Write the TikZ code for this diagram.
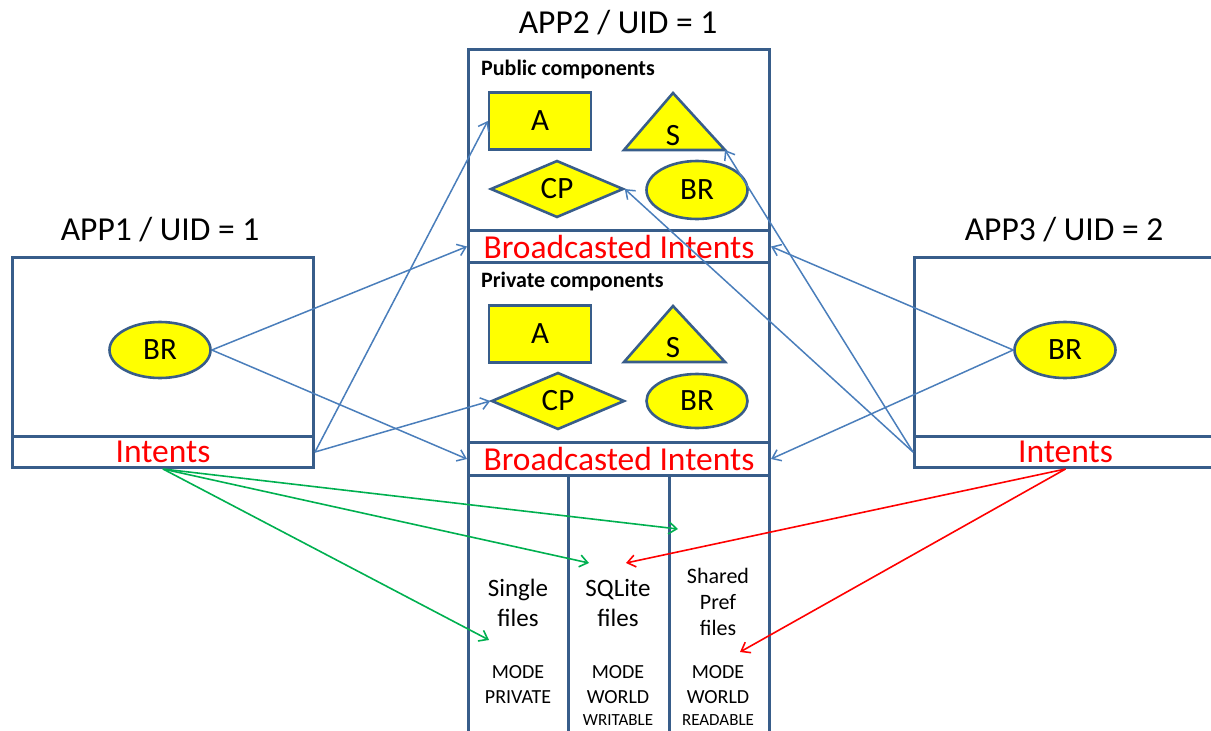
\documentclass[tikz,border=0pt]{standalone}
\usepackage{fontspec}
\setmainfont{Carlito}
\usetikzlibrary{shapes.geometric,arrows.meta}
\definecolor{boxblue}{HTML}{385D8A}
\definecolor{linkblue}{HTML}{4A7EBB}
\definecolor{linkgreen}{HTML}{00B050}
\definecolor{linkred}{HTML}{FF0000}
\definecolor{compyellow}{HTML}{FFFF00}
\newcommand\setfs[1]{\fontsize{#1}{#1}\selectfont}
\tikzset{
  frame/.style={draw=boxblue, line width=3pt, rectangle, inner sep=0pt, anchor=north west},
  comp/.style={draw=boxblue, line width=2.6pt, fill=compyellow, inner sep=0pt, font=\setfs{31}},
  complabel/.style={inner sep=0pt, font=\setfs{31}},
  compline/.style={draw=boxblue, line width=2.6pt, fill=compyellow, line join=miter},
  title/.style={inner sep=0pt, anchor=base, font=\setfs{33.5}},
  redtext/.style={text=linkred, font=\setfs{33.5}},
  seclabel/.style={inner sep=0pt, anchor=west, font=\bfseries\setfs{22}},
  filetext/.style={inner sep=0pt, anchor=base, font=\setfs{25}},
  sharedtext/.style={inner sep=0pt, anchor=base, font=\setfs{22}},
  modetext/.style={inner sep=0pt, anchor=base, font=\setfs{20}},
  modesmall/.style={inner sep=0pt, anchor=base, font=\setfs{17}},
  tip/.style={-{Straight Barb[length=8pt,width=12pt]}},
  link/.style={tip, draw=linkblue, line width=1.5pt},
  glink/.style={tip, draw=linkgreen, line width=1.6pt},
  rlink/.style={tip, draw=linkred, line width=1.6pt},
}
\begin{document}
\begin{tikzpicture}[x=1pt,y=-1pt]
\useasboundingbox (0,0) rectangle (1211,731);

% ---------- APP1 ----------
\node[title] (t1) at (160,240) {APP1 / UID = 1};
\node[frame, minimum width=301, minimum height=179] (app1) at (11,256) {};
\node[frame, minimum width=301, minimum height=31, redtext] (in1) at (11,435) {Intents};
\node[comp, ellipse, minimum width=101, minimum height=56] (br1) at (160,350) {BR};

% ---------- APP3 ----------
\node[title] (t3) at (1064,240) {APP3 / UID = 2};
\node[frame, minimum width=302, minimum height=179] (app3) at (913,256) {};
\node[frame, minimum width=302, minimum height=31, redtext] (in3) at (913,435) {Intents};
\node[comp, ellipse, minimum width=101, minimum height=56] (br3) at (1065,350) {BR};

% ---------- APP2 ----------
\node[title] (t2) at (618,33) {APP2 / UID = 1};
\node[frame, minimum width=301, minimum height=181] (pub) at (467,48) {};
\node[frame, minimum width=301, minimum height=32, redtext] (bi1) at (467,229) {Broadcasted Intents};
\node[frame, minimum width=301, minimum height=180] (priv) at (467,261) {};
\node[frame, minimum width=301, minimum height=33, redtext] (bi2) at (467,441) {Broadcasted Intents};
\node[frame, minimum width=100, minimum height=275] (c1) at (467,474) {};
\node[frame, minimum width=101, minimum height=275] (c2) at (567,474) {};
\node[frame, minimum width=100, minimum height=275] (c3) at (668,474) {};

\node[seclabel] (publbl) at (481,70) {Public components};
\node[seclabel] (privlbl) at (481,282) {Private components};

% public components
\node[comp, rectangle, minimum width=102, minimum height=57] (a1) at (540,121) {A};
\coordinate (s1t) at (673,93);
\coordinate (s1r) at (725,150);
\coordinate (s1l) at (624,150);
\draw[compline] (s1t) -- (s1r) -- (s1l) -- cycle;
\node[complabel] (s1) at (673,136) {S};
\node[comp, diamond, minimum width=133, minimum height=57] (cp1) at (557,189) {CP};
\node[comp, ellipse, minimum width=101, minimum height=58] (br2) at (697,190) {BR};

% private components
\node[comp, rectangle, minimum width=102, minimum height=57] (a2) at (540,334) {A};
\coordinate (s2t) at (673,306);
\coordinate (s2r) at (725,362);
\coordinate (s2l) at (624,362);
\draw[compline] (s2t) -- (s2r) -- (s2l) -- cycle;
\node[complabel] (s2) at (673,348) {S};
\node[comp, diamond, minimum width=133, minimum height=57] (cp2) at (558,401) {CP};
\node[comp, ellipse, minimum width=101, minimum height=54] (br4) at (697,401) {BR};

% storage columns
\node[filetext] (sf1) at (518,596) {Single};
\node[filetext] (sf2) at (518,626) {files};
\node[filetext] (sq1) at (618,596) {SQLite};
\node[filetext] (sq2) at (618,626) {files};
\node[sharedtext] (sp1) at (718,583) {Shared};
\node[sharedtext] (sp2) at (718,609) {Pref};
\node[sharedtext] (sp3) at (718,635) {files};
\node[modetext] (m1a) at (518,678) {MODE};
\node[modetext] (m1b) at (518,703) {PRIVATE};
\node[modetext] (m2a) at (618,678) {MODE};
\node[modetext] (m2b) at (618,703) {WORLD};
\node[modesmall] (m2c) at (618,725) {WRITABLE};
\node[modetext] (m3a) at (718,678) {MODE};
\node[modetext] (m3b) at (718,703) {WORLD};
\node[modesmall] (m3c) at (718,725) {READABLE};

% ---------- connectors ----------
\draw[link] (br1.east) -- (bi1.west);
\draw[link] (br1.east) -- (bi2.west);
\draw[link] (in1.east) -- (a1.west);
\draw[link] (in1.east) -- (cp2.west);
\draw[link] (br3.west) -- (bi1.east);
\draw[link] (br3.west) -- (bi2.east);
\draw[link] (in3.west) -- (s1r);
\draw[link] (in3.west) -- (cp1.east);

\coordinate (g1) at (678,529);
\coordinate (g2) at (589,563);
\coordinate (g3) at (489,640);
\draw[glink] (in1.south) -- (g1);
\draw[glink] (in1.south) -- (g2);
\draw[glink] (in1.south) -- (g3);

\coordinate (r1) at (626,563);
\coordinate (r2) at (740,652);
\draw[rlink] (in3.south) -- (r1);
\draw[rlink] (in3.south) -- (r2);
\end{tikzpicture}
\end{document}
